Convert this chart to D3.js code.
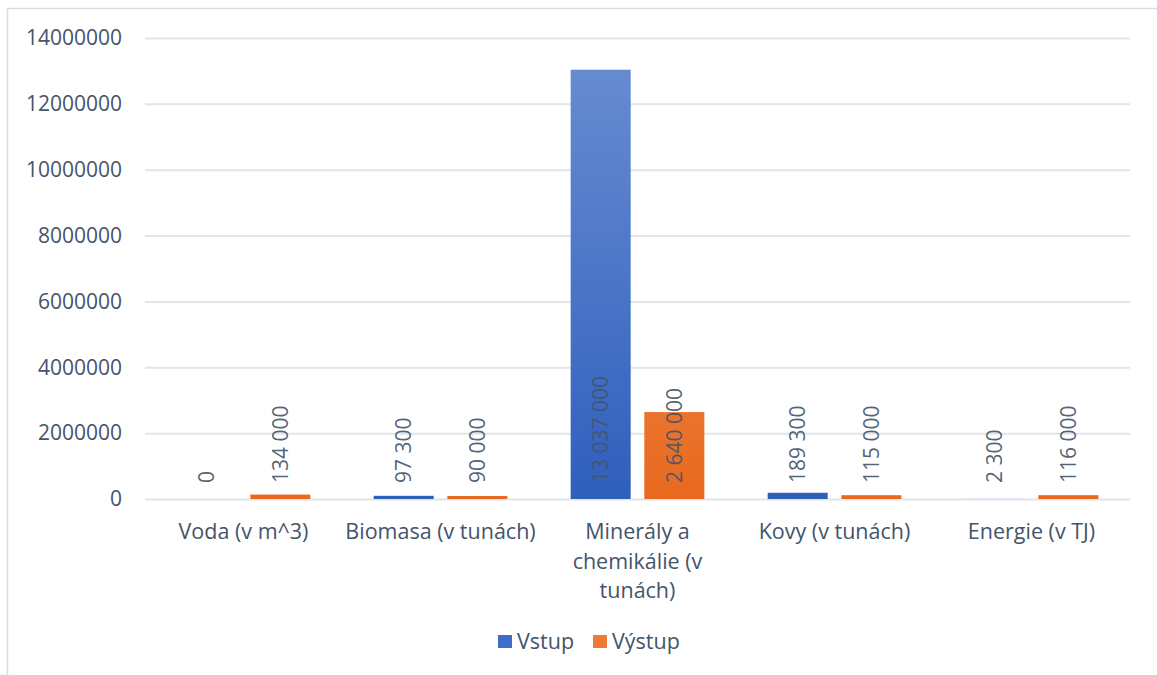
<!DOCTYPE html>
<html>
<head>
<meta charset="utf-8">
<script src="https://cdn.jsdelivr.net/npm/d3@7"></script>
<style>
  html, body { margin: 0; padding: 0; background: #fff; }
  svg { display: block; }
  text { font-family: "Open Sans", Lato, sans-serif; fill: #44546a; }
</style>
</head>
<body>
<svg id="chart" width="1157" height="675"></svg>
<script>
// Material flows: inputs vs outputs per category
const categories = [
  ["Voda (v m^3)"],
  ["Biomasa (v tunách)"],
  ["Minerály a", "chemikálie (v", "tunách)"],
  ["Kovy (v tunách)"],
  ["Energie (v TJ)"]
];
const seriesNames = ["Vstup", "Výstup"];
const vstup = [0, 97300, 13037000, 189300, 2300];
const vystup = [134000, 90000, 2640000, 115000, 116000];
const yTicks = [0, 2000000, 4000000, 6000000, 8000000, 10000000, 12000000, 14000000];

const svg = d3.select("#chart");
const W = 1157, H = 675;
const plotLeft = 145, plotRight = 1130, plotTop = 38, plotBottom = 499;
const textFont = 21.5, numFont = 21;

// outer frame (only top and left edges are inside the view)
svg.append("line").attr("x1", 7.5).attr("x2", W).attr("y1", 8.5).attr("y2", 8.5)
  .attr("stroke", "#d9dde3").attr("stroke-width", 1.5);
svg.append("line").attr("x1", 7.5).attr("x2", 7.5).attr("y1", 8.5).attr("y2", H)
  .attr("stroke", "#d9dde3").attr("stroke-width", 1.5);

const x0 = d3.scaleBand().domain(d3.range(categories.length)).range([plotLeft, plotRight]).paddingInner(0).paddingOuter(0);
const x1 = d3.scaleBand().domain([0, 1]).range([0, x0.bandwidth()]).paddingInner(0.185).paddingOuter(0.43);
const y = d3.scaleLinear().domain([0, 14000000]).range([plotBottom, plotTop]);

const defs = svg.append("defs");
function grad(id, c1, c2) {
  const g = defs.append("linearGradient").attr("id", id)
    .attr("gradientUnits", "userSpaceOnUse")
    .attr("x1", 0).attr("x2", 0).attr("y1", plotTop).attr("y2", plotBottom);
  g.append("stop").attr("offset", "0%").attr("stop-color", c1);
  g.append("stop").attr("offset", "100%").attr("stop-color", c2);
}
grad("gBlue", "#6a8ed2", "#2f5fbd");
grad("gOrange", "#f4a070", "#e8691e");
const fills = ["url(#gBlue)", "url(#gOrange)"];
const swatch = ["#3f6cc6", "#ee7a34"];

// gridlines and tick labels
const yAxis = d3.axisLeft(y).tickValues(yTicks).tickSize(-(plotRight - plotLeft)).tickPadding(23)
  .tickFormat(d3.format("d"));
const ga = svg.append("g").attr("transform", `translate(${plotLeft},0)`).call(yAxis);
ga.select(".domain").remove();
ga.selectAll(".tick line").attr("stroke", "#e1e5eb").attr("stroke-width", 2);
ga.selectAll(".tick text").attr("font-size", numFont).attr("fill", "#44546a")
  .style("font-family", "'Open Sans', sans-serif");

// bars (true heights)
const data = categories.map((c, i) => [vstup[i], vystup[i]]);
const groups = svg.append("g").selectAll("g").data(data).join("g")
  .attr("transform", (d, i) => `translate(${x0(i)},0)`);
groups.selectAll("rect").data(d => d).join("rect")
  .attr("x", (d, j) => x1(j))
  .attr("width", x1.bandwidth())
  .attr("y", d => y(d))
  .attr("height", d => plotBottom - y(d))
  .attr("fill", (d, j) => fills[j]);

// value labels, rotated, starting just above the baseline
const fmt = v => d3.format(",")(v).replace(/,/g, " ");
groups.selectAll("text.val").data(d => d).join("text")
  .attr("class", "val")
  .attr("transform", (d, j) => `translate(${x1(j) + x1.bandwidth() / 2 + 7.5},${plotBottom - 16}) rotate(-90)`)
  .attr("font-size", numFont)
  .attr("fill", "#44546a")
  .attr("fill-opacity", 0.92)
  .text(d => fmt(d));

// category labels
const cat = svg.append("g").selectAll("text").data(categories).join("text")
  .attr("x", (d, i) => x0(i) + x0.bandwidth() / 2)
  .attr("y", 539)
  .attr("text-anchor", "middle")
  .attr("font-size", textFont);
cat.selectAll("tspan").data(d => d).join("tspan")
  .attr("x", function () { return this.parentNode.getAttribute("x"); })
  .attr("dy", (d, k) => k === 0 ? 0 : 29.5)
  .text(d => d);

// legend
const legend = svg.append("g");
const lx = [498, 593];
seriesNames.forEach((s, i) => {
  legend.append("rect").attr("x", lx[i]).attr("y", 635).attr("width", 14).attr("height", 13).attr("fill", swatch[i]);
  legend.append("text").attr("x", lx[i] + 19).attr("y", 649).attr("font-size", textFont).text(s);
});
</script>
</body>
</html>
